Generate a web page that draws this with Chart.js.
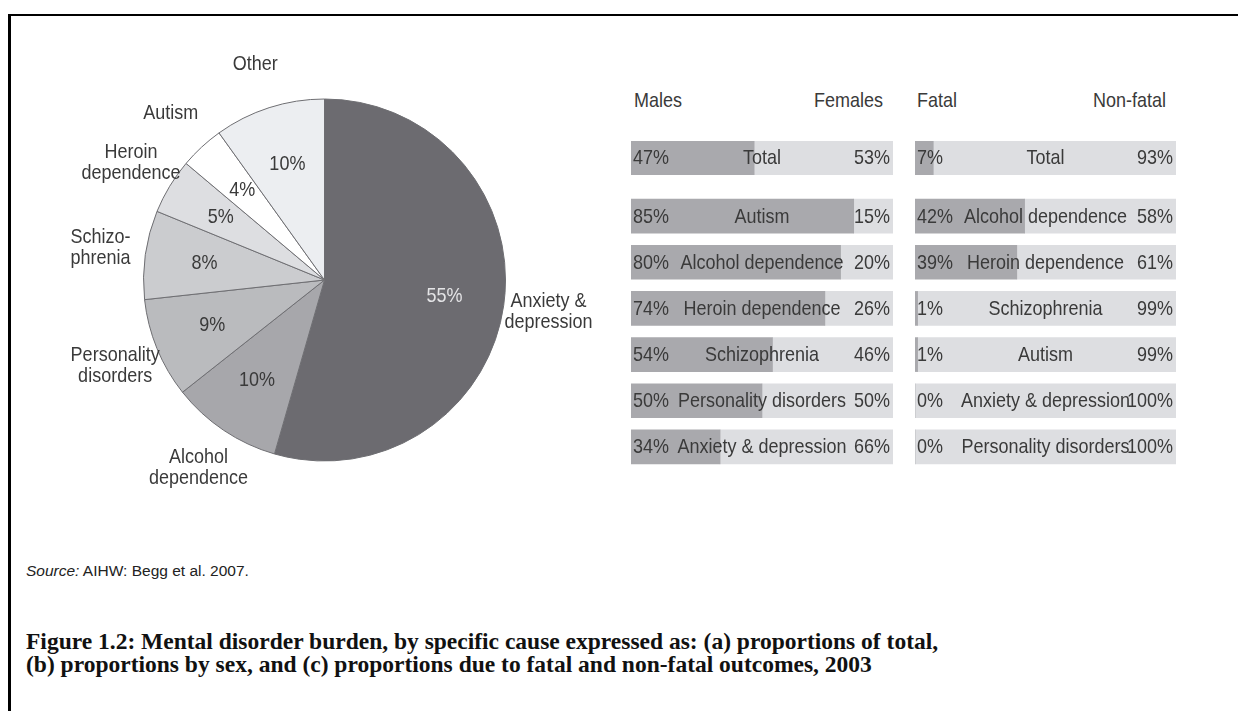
<!DOCTYPE html>
<html>
<head>
<meta charset="utf-8">
<script src="https://cdn.jsdelivr.net/npm/chart.js@4.4.0/dist/chart.umd.min.js"></script>
<style>
  body { margin: 0; width: 1238px; height: 711px; overflow: hidden; background: #fff; position: relative; }
  .frame { position: absolute; left: 8px; top: 14px; width: 1300px; height: 800px;
           border-top: 2px solid #000; border-left: 3px solid #000; }
  canvas { position: absolute; }
  .hdr { position: absolute; color: #3a3a3a; white-space: nowrap; line-height: 1;
         font: 18px 'Liberation Sans', Arial, sans-serif; transform: scaleY(1.1); }
  .source { position: absolute; left: 26px; top: 562px; font: 15.5px 'Liberation Sans', Arial, sans-serif; color: #222; }
  .caption { position: absolute; left: 26px; top: 630px; font: bold 23.5px/23px 'Liberation Serif', 'Times New Roman', serif; color: #111; white-space: nowrap; }
</style>
</head>
<body>
<div class="frame"></div>

<canvas id="pie" width="610" height="480" style="left:20px;top:40px"></canvas>

<span class="hdr" style="left:634px;top:90px">Males</span>
<span class="hdr" style="right:355px;top:90px">Females</span>
<span class="hdr" style="left:917px;top:90px">Fatal</span>
<span class="hdr" style="right:72px;top:90px">Non-fatal</span>

<canvas id="sexTotal" width="262" height="34" style="left:631px;top:141px"></canvas>
<canvas id="sexRows" width="262" height="277" style="left:631px;top:193px"></canvas>
<canvas id="outTotal" width="261" height="34" style="left:915px;top:141px"></canvas>
<canvas id="outRows" width="261" height="277" style="left:915px;top:193px"></canvas>

<div class="source"><i>Source:</i> AIHW: Begg et al. 2007.</div>
<div class="caption">Figure 1.2: Mental disorder burden, by specific cause expressed as: (a) proportions of total,<br>(b) proportions by sex, and (c) proportions due to fatal and non-fatal outcomes, 2003</div>

<script>
'use strict';

/* Data: */
const pieLabels = ['Anxiety &\ndepression', 'Alcohol\ndependence', 'Personality\ndisorders', 'Schizo-\nphrenia', 'Heroin\ndependence', 'Autism', 'Other'];
const pieValues = [55, 10, 9, 8, 5, 4, 10];
const pieColours = ['#6c6b70', '#a7a7ab', '#babbbe', '#cbcccf', '#dddee1', '#ffffff', '#eceef1'];

const sexTotal = [47, 53];
const sexCauses = ['Autism', 'Alcohol dependence', 'Heroin dependence', 'Schizophrenia', 'Personality disorders', 'Anxiety & depression'];
const males = [85, 80, 74, 54, 50, 34];
const females = [15, 20, 26, 46, 50, 66];

const outcomeTotal = [7, 93];
const outcomeCauses = ['Alcohol dependence', 'Heroin dependence', 'Schizophrenia', 'Autism', 'Anxiety & depression', 'Personality disorders'];
const fatal = [42, 39, 1, 1, 0, 0];
const nonFatal = [58, 61, 99, 99, 100, 100];

const barFont = '18px "Liberation Sans", Arial, sans-serif';
const pieFont = '18px "Liberation Sans", Arial, sans-serif';
const pieLineH = 21;
const stretchY = 1.1; // the original face is a little taller than Liberation Sans

const darkBar = '#a9a9ad';
const lightBar = '#dddee1';
const textColour = '#3a3a3a';

// text drawn slightly stretched upward, centred on y
const tallText = (ctx, text, x, y) => {
  ctx.save();
  ctx.translate(x, y);
  ctx.scale(1, stretchY);
  ctx.fillText(text, 0, 0);
  ctx.restore();
};

/* Pie labels */
const pieLabelPlugin = {
  id: 'pieLabels',
  afterDatasetsDraw(chart) {
    const ctx = chart.ctx;
    const arcs = chart.getDatasetMeta(0).data;
    ctx.save();
    ctx.font = pieFont;
    ctx.textAlign = 'center';
    ctx.textBaseline = 'middle';
    arcs.forEach((arc, i) => {
      const mid = (arc.startAngle + arc.endAngle) / 2;
      const r = arc.outerRadius;
      ctx.fillStyle = i === 0 ? '#e4e4e6' : textColour;
      tallText(ctx, pieValues[i] + '%', arc.x + Math.cos(mid) * r * 0.67, arc.y + Math.sin(mid) * r * 0.67);

      const lines = pieLabels[i].split('\n');
      const ox = arc.x + Math.cos(mid) * r * 1.25;
      const oy = arc.y + Math.sin(mid) * r * 1.25;
      ctx.fillStyle = textColour;
      lines.forEach((line, k) => {
        tallText(ctx, line, ox, oy + (k - (lines.length - 1) / 2) * pieLineH);
      });
    });
    ctx.restore();
  },
};

new Chart(document.getElementById('pie'), {
  type: 'pie',
  data: {
    labels: pieLabels,
    datasets: [{
      data: pieValues,
      backgroundColor: pieColours,
      borderColor: '#6e6e72',
      borderWidth: 1,
    }],
  },
  options: {
    responsive: false,
    animation: false,
    layout: { padding: { left: 123, right: 124, top: 58.5, bottom: 58.5 } },
    plugins: { legend: { display: false }, tooltip: { enabled: false } },
  },
  plugins: [pieLabelPlugin],
});

/* Stacked bars with text inside */
const barTextPlugin = {
  id: 'barText',
  afterDatasetsDraw(chart, args, opts) {
    const ctx = chart.ctx;
    const area = chart.chartArea;
    const bars = chart.getDatasetMeta(0).data;
    ctx.save();
    ctx.font = barFont;
    ctx.fillStyle = textColour;
    ctx.textBaseline = 'middle';
    bars.forEach((bar, i) => {
      const y = bar.y + 1;
      ctx.textAlign = 'left';
      tallText(ctx, opts.left[i] + '%', area.left + 2, y);
      ctx.textAlign = 'center';
      tallText(ctx, chart.data.labels[i], (area.left + area.right) / 2, y);
      ctx.textAlign = 'right';
      tallText(ctx, opts.right[i] + '%', area.right - 3, y);
    });
    ctx.restore();
  },
};

const drawBars = (id, labels, leftVals, rightVals, thickness) => {
  new Chart(document.getElementById(id), {
    type: 'bar',
    data: {
      labels: labels,
      datasets: [
        { data: leftVals, backgroundColor: darkBar, barThickness: thickness },
        { data: rightVals, backgroundColor: lightBar, barThickness: thickness },
      ],
    },
    options: {
      indexAxis: 'y',
      responsive: false,
      animation: false,
      layout: { padding: 0 },
      scales: {
        x: { display: false, stacked: true, min: 0, max: 100 },
        y: { display: false, stacked: true },
      },
      plugins: {
        legend: { display: false },
        tooltip: { enabled: false },
        barText: { left: leftVals, right: rightVals },
      },
    },
    plugins: [barTextPlugin],
  });
};

drawBars('sexTotal', ['Total'], [sexTotal[0]], [sexTotal[1]], 34);
drawBars('sexRows', sexCauses, males, females, 34);
drawBars('outTotal', ['Total'], [outcomeTotal[0]], [outcomeTotal[1]], 34);
drawBars('outRows', outcomeCauses, fatal, nonFatal, 34);
</script>
</body>
</html>
